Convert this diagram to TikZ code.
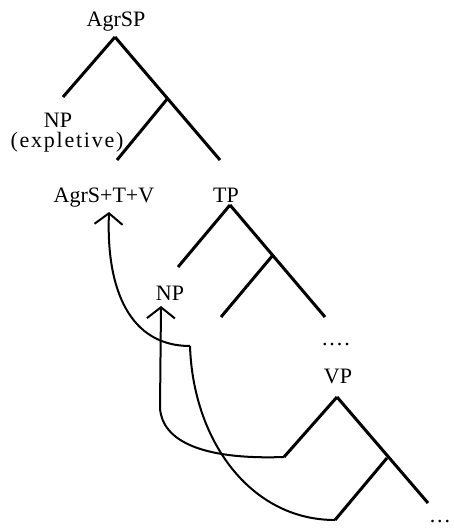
\documentclass[tikz,border=0pt]{standalone}
\usepackage{fontspec}
\setmainfont{Liberation Serif}
\usetikzlibrary{arrows.meta}
\begin{document}
\begin{tikzpicture}
  [x=1pt,y=-1pt,
   every node/.style={inner sep=0pt,anchor=base,font=\fontsize{22}{24}\selectfont},
   branch/.style={line width=3pt},
   move/.style={line width=2pt},
   chev/.style={-{Straight Barb[length=11pt,width=28pt,line width=2pt]}}]
  \useasboundingbox (0,0) rectangle (453,529);
  % labels
  \node (agrsp) at (116,27) {AgrSP};
  \node (np1) at (58,128) {NP};
  \node (expl) at (67,148) {\addfontfeature{LetterSpace=8}(expletive)};
  \node (agrstv) at (104,202) {AgrS+T+V};
  \node (tp) at (226,202) {TP};
  \node (np2) at (170,300) {NP};
  \node (dots1) at (336,345) {.\kern2pt.\kern2pt.\kern2pt.};
  \node (vp) at (338,383) {VP};
  \node (dots2) at (440,522) {.\kern2pt.\kern2pt.};

  % branch points
  \coordinate (a0) at (115,37);
  \coordinate (a1) at (63,97);
  \coordinate (a2) at (168,98);
  \coordinate (a3) at (117,160);
  \coordinate (a4) at (220,160);
  \coordinate (t0) at (230,205);
  \coordinate (t1) at (178,267);
  \coordinate (t2) at (273,255);
  \coordinate (t3) at (221,317);
  \coordinate (t4) at (325,317);
  \coordinate (v0) at (337,397);
  \coordinate (v1) at (284,457);
  \coordinate (v2) at (387,458);
  \coordinate (v3) at (335,520);
  \coordinate (v4) at (428,503);

  \foreach \from/\to in {a0/a1,a0/a4,a2/a3,t0/t1,t0/t4,t2/t3,v0/v1,v0/v4,v2/v3}
    \draw[branch] (\from) -- (\to);

  % movement
  \coordinate (hop) at (190,346);
  \coordinate (vtip) at (109,212);
  \coordinate (bend) at (160,408);
  \coordinate (ntip) at (161,306);
  \draw[move] (v3) .. controls (250,520) and (193,440) .. (hop);
  \draw[move,chev] (hop) .. controls (130,346) and (106,290) .. (vtip);
  \draw[move,chev] (v1) .. controls (200,460) and (162,440) .. (bend) -- (ntip);

\end{tikzpicture}
\end{document}
